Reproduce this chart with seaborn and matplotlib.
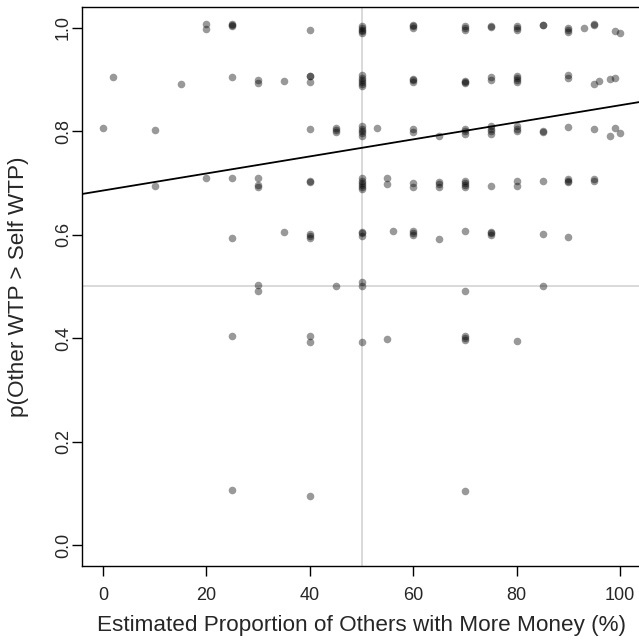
import numpy as np
import pandas as pd
import matplotlib
matplotlib.use("Agg")
import matplotlib.pyplot as plt
import seaborn as sns

# estimated % of others with more money, one entry per respondent (grouped by rows of p)
est_pct = [
    20, 20, 25, 25, 25, 40, 50, 50, 50, 50, 50, 60, 60, 60, 70, 70, 70, 75, 75,
    80, 80, 80, 85, 85, 90, 90, 90, 93, 95, 95, 99, 100,
    2, 15, 25, 30, 30, 35, 40, 40, 40, 50, 50, 50, 50, 50, 50, 60, 60, 60,
    70, 70, 70, 75, 75, 80, 80, 80, 80, 90, 90, 95, 96, 98, 99,
    0, 10, 40, 45, 45, 45, 50, 50, 50, 50, 50, 53, 60, 60, 65, 70, 70, 70,
    75, 75, 75, 75, 80, 80, 80, 85, 85, 90, 95, 98, 99, 100,
    10, 20, 25, 30, 30, 30, 40, 40, 50, 50, 50, 50, 50, 50, 55, 55, 60, 60,
    65, 65, 65, 70, 70, 70, 70, 75, 80, 80, 85, 90, 90, 90, 95, 95,
    25, 35, 40, 40, 40, 50, 50, 50, 56, 60, 60, 60, 65, 70, 75, 75, 75, 85, 90,
    30, 30, 45, 50, 50, 70, 85,
    25, 40, 40, 50, 55, 70, 70, 70, 80,
    25, 40, 70,
]
# p(Other WTP > Self WTP), jittered as in the original
p_other = [
    1.007, 0.998, 1.008, 1.006, 1.004, 0.997, 1.003, 1.0, 0.997, 0.994, 0.99,
    1.006, 1.003, 1.0, 1.003, 1.0, 0.997, 1.004, 1.001, 1.004, 1.0, 0.997,
    1.006, 1.005, 1.0, 0.996, 0.992, 1.0, 1.007, 1.006, 0.994, 0.991,
    0.905, 0.892, 0.905, 0.899, 0.893, 0.897, 0.908, 0.907, 0.896,
    0.91, 0.904, 0.9, 0.896, 0.892, 0.888, 0.902, 0.899, 0.895,
    0.898, 0.896, 0.894, 0.906, 0.899, 0.908, 0.904, 0.9, 0.896,
    0.909, 0.903, 0.892, 0.897, 0.901, 0.904,
    0.807, 0.803, 0.805, 0.807, 0.803, 0.799, 0.81, 0.805, 0.8, 0.796, 0.792,
    0.807, 0.805, 0.799, 0.792, 0.805, 0.8, 0.795,
    0.81, 0.805, 0.8, 0.795, 0.81, 0.805, 0.8, 0.8, 0.798, 0.808, 0.805,
    0.792, 0.807, 0.797,
    0.694, 0.709, 0.71, 0.709, 0.697, 0.693, 0.704, 0.702,
    0.71, 0.705, 0.7, 0.697, 0.693, 0.689, 0.709, 0.699, 0.7, 0.692,
    0.703, 0.698, 0.692, 0.705, 0.701, 0.697, 0.692, 0.694, 0.705, 0.695,
    0.704, 0.707, 0.705, 0.703, 0.707, 0.705,
    0.594, 0.606, 0.601, 0.598, 0.593, 0.606, 0.603, 0.597, 0.607,
    0.608, 0.604, 0.6, 0.592, 0.607, 0.606, 0.603, 0.599, 0.601, 0.596,
    0.503, 0.491, 0.501, 0.508, 0.5, 0.491, 0.5,
    0.404, 0.404, 0.393, 0.393, 0.398, 0.404, 0.4, 0.397, 0.394,
    0.107, 0.094, 0.104,
]
# linear fit shown in the figure
fit_intercept = 0.6856
fit_slope = 0.00165

df = pd.DataFrame({"est": est_pct, "p": p_other})

sns.set_style("white")
plt.rcParams['font.family'] = ['Liberation Sans', 'DejaVu Sans']

fig = plt.figure(figsize=(6.39, 6.41), dpi=100)
ax = fig.add_axes([0.1288, 0.1175, 0.874, 0.8711])

ax.axvline(50, color="#d3d3d3", lw=1.2, zorder=1)
ax.axhline(0.5, color="#d3d3d3", lw=1.2, zorder=1)
sns.scatterplot(data=df, x="est", y="p", color="black", alpha=0.4, s=30,
                linewidth=0, ax=ax, zorder=2)
ax.axline((0, fit_intercept), slope=fit_slope, color="black", lw=1.3, zorder=3)

ax.set_xlim(-4, 104)
ax.set_ylim(-0.04, 1.04)
ax.set_xticks([0, 20, 40, 60, 80, 100])
ax.set_yticks([0, 0.2, 0.4, 0.6, 0.8, 1.0])
ax.set_yticklabels(["0.0", "0.2", "0.4", "0.6", "0.8", "1.0"], rotation=90, va="center")
ax.tick_params(axis="both", direction="out", length=7.5, width=1, color="black",
               labelsize=13, bottom=True, left=True)
ax.tick_params(axis="x", pad=8)
ax.tick_params(axis="y", pad=0)
for sp in ax.spines.values():
    sp.set_color("black")
    sp.set_linewidth(1)

ax.set_xlabel("Estimated Proportion of Others with More Money (%)", fontsize=16.2)
ax.set_ylabel("p(Other WTP > Self WTP)", fontsize=16.2)
ax.xaxis.set_label_coords(0.5, -0.088)
ax.yaxis.set_label_coords(-0.095, 0.5)

fig.savefig("out.png", dpi=100)
